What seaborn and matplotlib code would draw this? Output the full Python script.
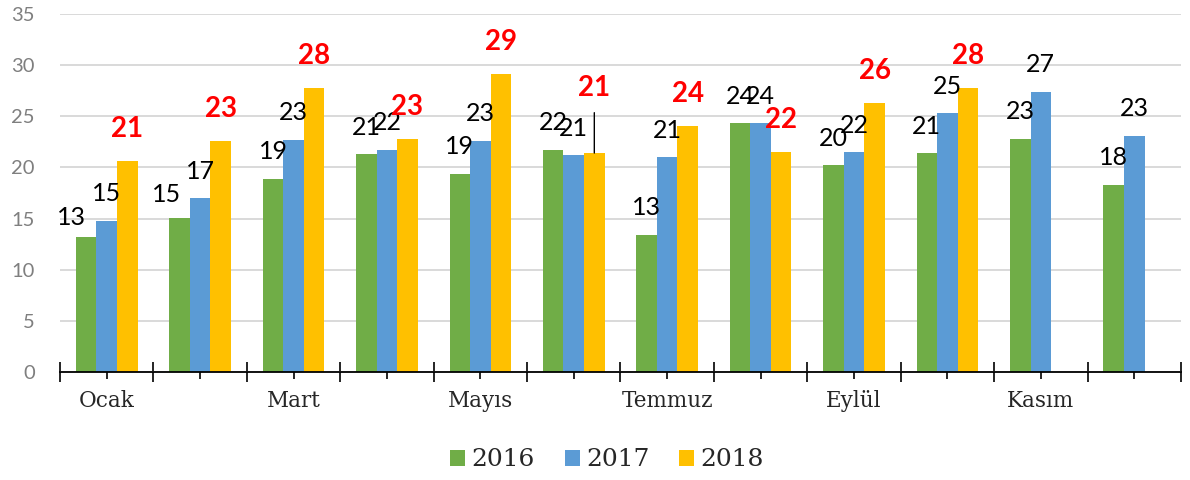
import pandas as pd
import seaborn as sns
import matplotlib.pyplot as plt
from matplotlib.ticker import FixedLocator

# aylik degerler
aylar = ['Ocak', 'Şubat', 'Mart', 'Nisan', 'Mayıs', 'Haziran',
         'Temmuz', 'Ağustos', 'Eylül', 'Ekim', 'Kasım', 'Aralık']
yillar = ['2016', '2017', '2018']
yil_2016 = [13.2, 15.1, 18.9, 21.3, 19.4, 21.7, 13.4, 24.3, 20.2, 21.4, 22.8, 18.3]
yil_2017 = [14.8, 17.0, 22.7, 21.7, 22.6, 21.2, 21.0, 24.3, 21.5, 25.3, 27.4, 23.1]
yil_2018 = [20.6, 22.6, 27.8, 22.8, 29.1, 21.4, 24.0, 21.5, 26.3, 27.8, None, None]
renkler = ['#70AD47', '#5B9BD5', '#FFC000']

sns.set_theme(style='white')

"""uzun formatta tablo"""
rows = []
for yil, vals in zip(yillar, [yil_2016, yil_2017, yil_2018]):
    for ay, v in zip(aylar, vals):
        if v is not None:
            rows.append({'ay': ay, 'yil': yil, 'deger': v})
df = pd.DataFrame(rows)

fig = plt.figure(figsize=(11.9, 4.8), dpi=100)
ax = fig.add_axes([0.0504, 0.225, 0.942, 0.746])
sns.barplot(data=df, x='ay', y='deger', hue='yil', order=aylar, hue_order=yillar,
            palette=renkler, width=0.66, saturation=1, linewidth=0, ax=ax)

ax.set_xlim(-0.5, 11.5)
ax.set_ylim(0, 35)
ax.set_xlabel('')
ax.set_ylabel('')

"""eksenler ve izgara"""
ax.set_yticks(range(0, 36, 5))
ax.yaxis.grid(True, color='#d9d9d9', linewidth=1.4)
ax.set_axisbelow(True)
for s in ['top', 'right', 'left']:
    ax.spines[s].set_visible(False)
ax.spines['bottom'].set_color('black')
ax.spines['bottom'].set_linewidth(1.3)
ax.tick_params(axis='y', length=0, pad=18, labelsize=14.5, labelcolor='#7f7f7f')
for t in ax.get_yticklabels():
    t.set_fontfamily('Lato')

ax.set_xticks(range(12))
ax.set_xticklabels([a if i % 2 == 0 else '' for i, a in enumerate(aylar)],
                   fontfamily='DejaVu Serif', fontsize=15.5, color='#262626')
ax.xaxis.set_minor_locator(FixedLocator([i - 0.5 for i in range(13)]))
ax.tick_params(axis='x', which='major', direction='inout', length=10, width=1.2,
               color='black', bottom=True, pad=8)
ax.tick_params(axis='x', which='minor', direction='inout', length=14, width=1.2,
               color='black', bottom=True)

"""veri etiketleri"""
kaydir = {('2016', 0): (-15, 19), ('2016', 1): (-13, 23), ('2018', 5): (0, 65)}
for yil, cont in zip(yillar, ax.containers):
    for bar in cont:
        h = bar.get_height()
        if pd.isna(h) or h == 0:
            continue
        x = bar.get_x() + bar.get_width() / 2
        i = int(round(x))
        if yil == '2018':
            dx, dy = kaydir.get((yil, i), (0, 32))
            kw = dict(color='#ff0000', fontsize=20, fontweight='bold')
        else:
            dx, dy = kaydir.get((yil, i), (0, 27))
            kw = dict(color='black', fontsize=18)
        arrow = None
        if (yil, i) == ('2018', 5):
            arrow = dict(arrowstyle='-', color='black', lw=1, shrinkA=6, shrinkB=0)
        ax.annotate(f'{h:.0f}', xy=(x, h), xytext=(dx, dy), textcoords='offset pixels',
                    ha='center', va='center', fontfamily='Lato', arrowprops=arrow, **kw)

"""lejant"""
handles, labels = ax.get_legend_handles_labels()
ax.get_legend().remove()
fig.legend(handles, labels, loc='center', bbox_to_anchor=(607 / 1190, 1 - 460 / 480),
           ncol=3, frameon=False, handlelength=0.6, handleheight=0.6,
           handletextpad=0.25, columnspacing=1.2,
           prop={'family': 'DejaVu Serif', 'size': 18})

plt.savefig('out.png', dpi=100)
